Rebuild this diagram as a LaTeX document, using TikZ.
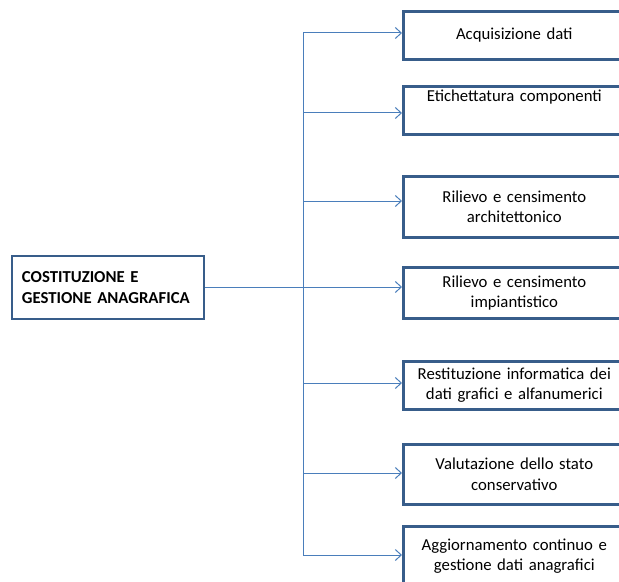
\documentclass[tikz,border=0pt]{standalone}
\usepackage{fontspec}
\setmainfont{Carlito}
\usetikzlibrary{arrows.meta}
\definecolor{boxline}{HTML}{385D8A}
\definecolor{linkline}{HTML}{4A7EBB}
\newcommand\boxfont{\fontsize{16.8}{20.5}\selectfont\spaceskip=3.4bp plus 1bp\relax}
\begin{document}
\begin{tikzpicture}[x=1bp,y=-1bp,
  task/.style={font=\boxfont,draw=boxline,line width=2.6bp,fill=white,anchor=north west,
    text width=212bp,inner xsep=5bp,inner ysep=0bp,align=center},
  root/.style={draw=boxline,line width=2.6bp,fill=white,
    text width=172bp,inner xsep=10bp,inner ysep=0bp,align=left,minimum height=63bp,
    font=\bfseries\boxfont},
  link/.style={draw=linkline,line width=1bp},
  feed/.style={link,-{Straight Barb[length=6bp,width=11bp,line width=1bp]}}]
\useasboundingbox (0,0) rectangle (619,582);
\clip (0,0) rectangle (619,582);
\fill[white] (0,0) rectangle (619,582);

% root of the breakdown
\node[root] (root) at (108,287.5) {COSTITUZIONE E\\GESTIONE ANAGRAFICA};

% activities
\node[task,minimum height=48bp] (b1) at (402,10)  {Acquisizione dati};
\node[task,minimum height=48bp] (b2) at (402,85)  {Etichettatura componenti\\[2bp]\strut};
\node[task,minimum height=61bp] (b3) at (402,175) {Rilievo e censimento\\architettonico};
\node[task,minimum height=51bp] (b4) at (402,266) {Rilievo e censimento\\impiantistico};
\node[task,minimum height=48bp] (b5) at (402,360) {Restituzione informatica dei\\dati grafici e alfanumerici};
\node[task,minimum height=60bp] (b6) at (402,443) {Valutazione dello stato\\conservativo};
\node[task,minimum height=60bp] (b7) at (402,525) {Aggiornamento continuo e\\gestione dati anagrafici};

% branch points on the vertical trunk
\coordinate (t1) at (303,33);
\coordinate (t2) at (303,113);
\coordinate (t3) at (303,201);
\coordinate (t4) at (303,287);
\coordinate (t5) at (303,383);
\coordinate (t6) at (303,473);
\coordinate (t7) at (303,555);

\draw[link] (t1) -- (t7);
\draw[link] (root.east |- t4) -- (t4);
\foreach \i in {1,...,7}
  \draw[feed] (t\i) -- (t\i -| b\i.west);
\end{tikzpicture}
\end{document}
